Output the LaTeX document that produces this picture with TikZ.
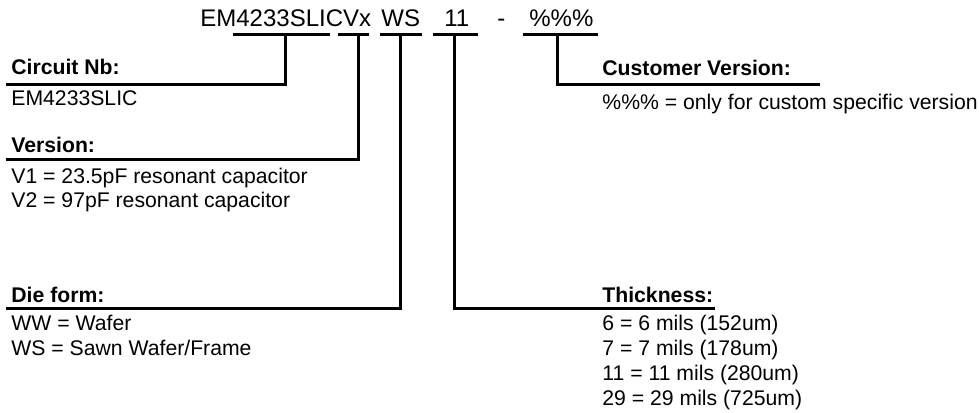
\documentclass[tikz,border=0pt]{standalone}
\usepackage{fontspec}
\setmainfont{Liberation Sans}
\begin{document}
\begin{tikzpicture}[x=.5pt, y=-.5pt,
  txt/.style={anchor=base west, inner sep=0pt, font=\fontsize{10.6}{12}\selectfont},
  head/.style={txt, font=\fontsize{10.6}{12}\selectfont\bfseries},
  code/.style={anchor=base west, inner sep=0pt, font=\fontsize{12}{14}\selectfont},
  bar/.style={line width=1.5pt}]
\useasboundingbox (0,0) rectangle (979,412);

% part number
\node [code] (pn) at (200,26) {EM4233SLICVx};
\node [code] (ws) at (381,26) {WS};
\node [code] (th) at (444,26) {11};
\node [code] (dash) at (497,26) {-};
\node [code] (cv) at (529,26) {\%\%\%};

% underlines
\draw [bar] (233,34.5) -- (330,34.5);
\draw [bar] (338,34.5) -- (369,34.5);
\draw [bar] (380,34.5) -- (422,34.5);
\draw [bar] (433,34.5) -- (478,34.5);
\draw [bar] (523,34.5) -- (598,34.5);

% left column
\node [head] (circH) at (11,74) {Circuit Nb:};
\node [txt] (circT) at (11,105) {EM4233SLIC};
\draw [bar] (285,34.5) |- (6,84.5);

\node [head] (verH) at (11,152) {Version:};
\node [txt] (verA) at (11,183) {V1 = 23.5pF resonant capacitor};
\node [txt] (verB) at (11,207) {V2 = 97pF resonant capacitor};
\draw [bar] (358.5,34.5) |- (6,159);

\node [head] (dieH) at (11,302) {Die form:};
\node [txt] (dieA) at (11,330) {WW = Wafer};
\node [txt] (dieB) at (11,355) {WS = Sawn Wafer/Frame};
\draw [bar] (400.5,34.5) |- (6,308.5);

% right column
\node [head] (custH) at (602,75) {Customer Version:};
\node [txt] (custT) at (602,109) {\%\%\% = only for custom specific version};
\draw [bar] (557,34.5) |- (820,84);

\node [head] (thkH) at (602,302) {Thickness:};
\node [txt] (thkA) at (602,330) {6 = 6 mils (152um)};
\node [txt] (thkB) at (602,355) {7 = 7 mils (178um)};
\node [txt] (thkC) at (602,380) {11 = 11 mils (280um)};
\node [txt] (thkD) at (602,405) {29 = 29 mils (725um)};
\draw [bar] (454.5,34.5) |- (715,308.5);
\end{tikzpicture}
\end{document}
